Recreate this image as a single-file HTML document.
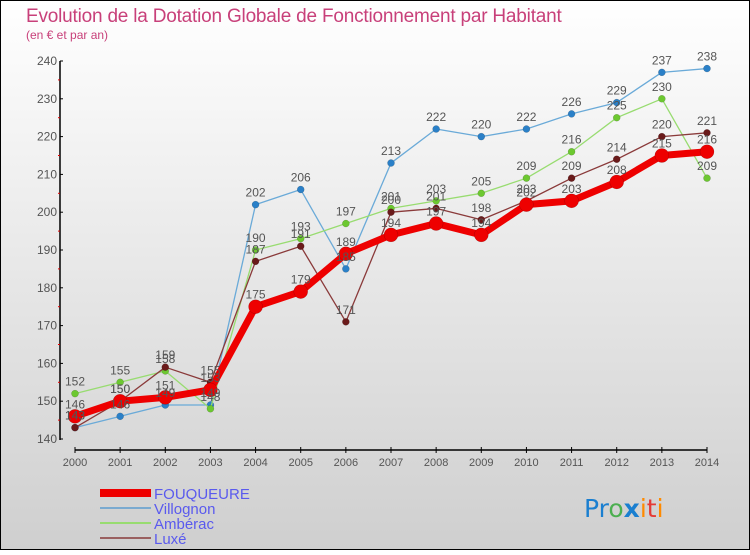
<!DOCTYPE html>
<html><head><meta charset="utf-8"><style>
html,body{margin:0;padding:0}
body{width:750px;height:550px;overflow:hidden;font-family:"Liberation Sans",sans-serif}
</style></head><body>
<svg width="750" height="550" xmlns="http://www.w3.org/2000/svg" font-family="Liberation Sans, sans-serif">
<defs><linearGradient id="bg" x1="0" y1="0" x2="0" y2="1"><stop offset="0" stop-color="#ffffff"/><stop offset="1" stop-color="#cfcfcf"/></linearGradient></defs>
<rect x="0.5" y="0.5" width="749" height="549" fill="url(#bg)" stroke="#000"/>
<text x="26" y="22" font-size="19" fill="#c8407a" style="letter-spacing:-0.2px">Evolution de la Dotation Globale de Fonctionnement par Habitant</text>
<text x="26" y="39" font-size="12" fill="#c8407a">(en € et par an)</text>
<g id="axes"></g>
<g id="series"></g>
<g id="legend"></g>
<text x="584" y="517" font-size="25" font-family="DejaVu Sans, sans-serif"><tspan fill="#1a7fd0">Pr</tspan><tspan fill="#4caf50">o</tspan><tspan fill="#1a7fd0" font-weight="bold">x</tspan><tspan fill="#ff8a00">i</tspan><tspan fill="#e53935">t</tspan><tspan fill="#ff8a00">i</tspan></text>
</svg>
<script>
const years=[2000,2001,2002,2003,2004,2005,2006,2007,2008,2009,2010,2011,2012,2013,2014];
const fouqueure=[146,150,151,153,175,179,189,194,197,194,202,203,208,215,216];
const villognon=[143,146,149,149,202,206,185,213,222,220,222,226,229,237,238];
const amberac=[152,155,158,148,190,193,197,201,203,205,209,216,225,230,209];
const luxe=[143,150,159,155,187,191,171,200,201,198,203,209,214,220,221];
const yTicks=[140,150,160,170,180,190,200,210,220,230,240];
const NS="http://www.w3.org/2000/svg";
function X(i){return 75+i*(707-75)/(years.length-1);}
function Y(v){return 439-(v-140)*(439-61)/100;}
function mk(p,t,a){const e=document.createElementNS(NS,t);for(const k in a)e.setAttribute(k,a[k]);p.appendChild(e);return e;}
const ax=document.getElementById('axes');
let yl=mk(ax,'line',{x1:60,y1:61,x2:60,y2:440,stroke:'#000','stroke-width':1.5});


yTicks.forEach((t,i)=>{
  mk(ax,'line',{x1:60,x2:63,y1:Y(t),y2:Y(t),stroke:'#000'});
  if(i<yTicks.length-1)mk(ax,'line',{x1:58,x2:60,y1:Y(t+5),y2:Y(t+5),stroke:'#d00'});
  const tx=mk(ax,'text',{x:57,y:Y(t)+4,'text-anchor':'end','font-size':12,fill:'#555'});
  tx.textContent=t;
  
  
});
let xl=mk(ax,'line',{x1:75,y1:450,x2:707,y2:450,stroke:'#000','stroke-width':1.5});


years.forEach((y,i)=>{
  mk(ax,'line',{x1:X(i),x2:X(i),y1:447,y2:453,stroke:'#000'});
  const tx=mk(ax,'text',{x:X(i),y:466,'text-anchor':'middle','font-size':11,fill:'#555'});
  tx.textContent=y;
  
  
});
const sg=document.getElementById('series');
function draw(name,data,color,dot,w,r){
  const g=mk(sg,'g',{});
  
  
  mk(g,'polyline',{points:data.map((v,i)=>X(i)+','+Y(v)).join(' '),fill:'none',stroke:color,'stroke-width':w,'stroke-linejoin':'round'});
  data.forEach((v,i)=>{
    const c=mk(g,'circle',{cx:X(i),cy:Y(v),r:r,fill:dot,stroke:'rgba(0,0,0,0.25)','stroke-width':0.5});
    
    
  });
}
function labels(name,data){
  data.forEach((v,i)=>{
    const t=mk(sg,'text',{x:X(i),y:Y(v)-8,'text-anchor':'middle','font-size':12,fill:'#555'});
    t.textContent=v;
    
    
  });
}
draw('villognon',villognon,'#6aaad8','#2a80c8',1.3,3.5);
draw('amberac',amberac,'#98dc70','#6cc830',1.3,3.5);
draw('luxe',luxe,'#8a3a3a','#6a1a1a',1.3,3.5);
draw('fouqueure',fouqueure,'#ee0000','#ee0000',7,7);
labels('villognon',villognon);labels('amberac',amberac);labels('luxe',luxe);labels('fouqueure',fouqueure);
const lg=document.getElementById('legend');
const items=[['FOUQUEURE','#ee0000',8],['Villognon','#7aaad0',2],['Ambérac','#98dc70',2],['Luxé','#9a6060',2]];
items.forEach((it,i)=>{
  const y=493+i*15;
  const l=mk(lg,'line',{x1:100,x2:151,y1:y,y2:y,stroke:it[1],'stroke-width':it[2]});
  
  
  const t=mk(lg,'text',{x:154,y:y+6,'font-size':15,fill:'#5a5aee'});
  t.textContent=it[0];
  
  
});
</script>
</body></html>
